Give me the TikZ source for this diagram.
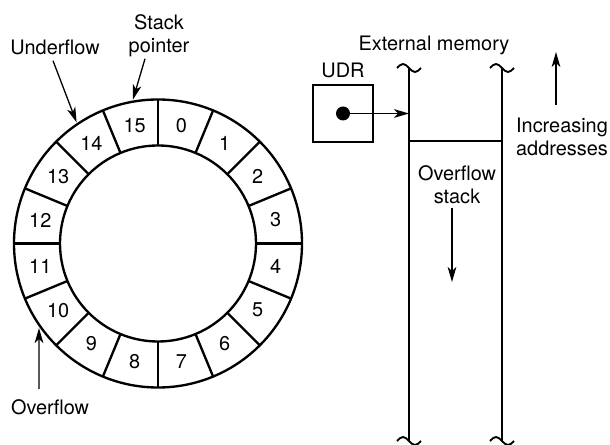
\documentclass[tikz,border=0pt]{standalone}
\usepackage{fontspec}
\setmainfont{TeX Gyre Heros}
\usetikzlibrary{arrows.meta,positioning,calc}
\tikzset{
  ringline/.style={line width=2pt},
  wall/.style={line width=1.6pt},
  ptr/.style={-{Stealth[length=4.5mm,width=2.6mm,inset=1.2mm]},line width=1.1pt},
  lbl/.style={font=\fontsize{17}{19.6}\selectfont,align=center,inner sep=0pt},
  cellnum/.style={font=\fontsize{17}{19.6}\selectfont,inner sep=0pt}
}
\newcommand\memcut[1]{\draw[wall] ($(#1)+(-12,0)$) sin ++(6,4) cos ++(6,-4) sin ++(6,-4) cos ++(6,4);}

\begin{document}
\begin{tikzpicture}[x=0.3mm,y=0.3mm]
  \useasboundingbox (0,0) rectangle (610,445);
  \coordinate (c) at (158,201.5);
  % stack register ring
  \draw[ringline] (c) circle (144) (c) circle (98);
  \foreach \k [evaluate=\k as \a using 90-22.5*\k,
               evaluate=\k as \m using 78.75-22.5*\k] in {0,...,15} {
    \draw[ringline] ($(c)+(\a:98)$) -- ($(c)+(\a:144)$);
    \node[cellnum] at ($(c)+(\m:120)$) {\k};
  }
  \coordinate (sphead) at ($(c)+(99.9:146)$);
  \coordinate (unhead) at ($(c)+(123.9:146)$);
  \coordinate (ovhead) at ($(c)+(215.4:146)$);
  \node[lbl] (sp) at (159,409.5) {Stack\\pointer};
  \node[lbl] (under) at (55,398) {Underflow};
  \node[lbl] (over) at (50,38) {Overflow};
  \draw[ptr] ($(sp.south)+(-14,-2)$) -- (sphead);
  \draw[ptr] ($(under.south)+(-2,-6)$) -- (unhead);
  \draw[ptr] ($(over.north)+(-11,10)$) -- (ovhead);
  % external memory
  \node[lbl] (ext) at (434,400) {External memory};
  \coordinate (ltop) at (409,377); \coordinate (lbot) at (409,4);
  \coordinate (rtop) at (502,377); \coordinate (rbot) at (502,4);
  \draw[wall] (ltop) -- (lbot); \draw[wall] (rtop) -- (rbot);
  \memcut{ltop} \memcut{rtop} \memcut{lbot} \memcut{rbot}
  \coordinate (sl) at (409,304); \coordinate (sr) at (502,304);
  \draw[wall] (sl) -- (sr);
  \node[lbl] (ostack) at (457,260.5) {Overflow\\stack};
  \coordinate (dtail) at (452,237); \coordinate (dhead) at (452,163);
  \draw[ptr] (dtail) -- (dhead);
  % UDR register
  \node[draw,wall,minimum width=18mm,minimum height=17.1mm,inner sep=0pt] (udr) at (343,331.5) {};
  \node[lbl,above=1.8mm of udr] (udrlbl) {UDR};
  \fill (udr.center) circle (7);
  \draw[ptr] (udr.center) -- (udr.center -| ltop);
  % address direction
  \node[lbl] (incr) at (562,308.5) {Increasing\\addresses};
  \coordinate (utail) at (556,340); \coordinate (uhead) at (556,393);
  \draw[ptr] (utail) -- (uhead);
\end{tikzpicture}
\end{document}
